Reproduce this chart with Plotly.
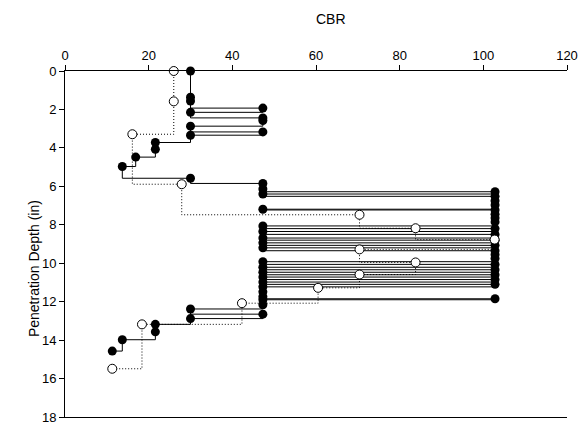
import plotly.graph_objects as go

# Filled series (solid step line)
depth_filled = [0, 1.36, 1.56, 1.93, 2.15, 2.44, 2.58, 2.87, 3.17, 3.34, 3.72, 4.07, 4.48, 4.97,
                5.58, 5.85, 6.14, 6.28, 6.40, 6.52, 6.75, 6.97, 7.19, 7.23, 7.45, 7.65, 7.85,
                8.06, 8.20, 8.35, 8.50, 8.69, 8.80, 8.94, 9.07, 9.20, 9.35, 9.55, 9.75,
                9.92, 10.06, 10.21, 10.34, 10.47, 10.60, 10.72, 10.85, 10.98, 11.10, 11.23,
                11.49, 11.74, 11.85, 11.90, 12.16, 12.38, 12.65, 12.88, 13.18, 13.57, 13.98, 14.57]
cbr_filled = [30, 30, 30, 47.3, 30, 47.3, 47.3, 30, 47.3, 30, 21.6, 21.6, 16.9, 13.7,
              30, 47.3, 47.3, 102.8, 47.3, 102.8, 102.8, 102.8, 47.3, 102.8, 102.8, 102.8, 102.8,
              47.3, 102.8, 47.3, 102.8, 47.3, 102.8, 47.3, 102.8, 47.3, 102.8, 102.8, 102.8,
              47.3, 102.8, 47.3, 102.8, 47.3, 102.8, 47.3, 102.8, 47.3, 102.8, 47.3,
              47.3, 47.3, 102.8, 47.3, 47.3, 30, 47.3, 30, 21.6, 21.6, 13.7, 11.3]

# Open series (dotted step line)
depth_open = [0, 1.58, 3.29, 5.89, 7.48, 8.18, 8.77, 9.28, 9.96, 10.59, 11.28, 12.08, 13.18, 15.49]
cbr_open = [26, 26, 16.1, 27.9, 70.4, 83.8, 102.7, 70.4, 83.8, 70.4, 60.5, 42.3, 18.4, 11.3]

x_ticks = [0, 20, 40, 60, 80, 100, 120]
y_ticks = [0, 2, 4, 6, 8, 10, 12, 14, 16, 18]

FONT = "Liberation Sans, Arial, sans-serif"

fig = go.Figure()
fig.add_trace(go.Scatter(
    x=cbr_filled, y=depth_filled, mode="lines+markers",
    line=dict(color="black", width=1, shape="vh"),
    marker=dict(symbol="circle", size=9, color="black"),
    showlegend=False, cliponaxis=False))
fig.add_trace(go.Scatter(
    x=cbr_open, y=depth_open, mode="lines+markers",
    line=dict(color="black", width=1, shape="vh", dash="1px,2px"),
    marker=dict(symbol="circle", size=9, color="white", line=dict(color="black", width=1)),
    showlegend=False, cliponaxis=False))

fig.update_layout(
    width=585, height=432,
    margin=dict(l=65, r=13, t=71, b=7),
    paper_bgcolor="white", plot_bgcolor="white",
    font=dict(family=FONT, size=13, color="black"),
    xaxis=dict(side="top", range=[0, 120], tickvals=x_ticks, ticks="outside", ticklen=5,
               tickcolor="black", showline=True, linecolor="black", linewidth=1, mirror=True,
               showgrid=False, zeroline=False, tickfont=dict(size=13)),
    yaxis=dict(range=[18, 0], tickvals=y_ticks, ticks="outside", ticklen=5,
               tickcolor="black", showline=True, linecolor="black", linewidth=1,
               showgrid=False, zeroline=False, tickfont=dict(size=13)),
    annotations=[
        dict(text="CBR", x=0.53, y=1.15, xref="paper", yref="paper", showarrow=False,
             xanchor="center", yanchor="middle", font=dict(size=14)),
        dict(text="Penetration Depth (in)", x=-0.062, y=0.43, xref="paper", yref="paper",
             showarrow=False, textangle=-90, xanchor="center", yanchor="middle",
             font=dict(size=14)),
    ],
)

fig.write_html("out.html")
